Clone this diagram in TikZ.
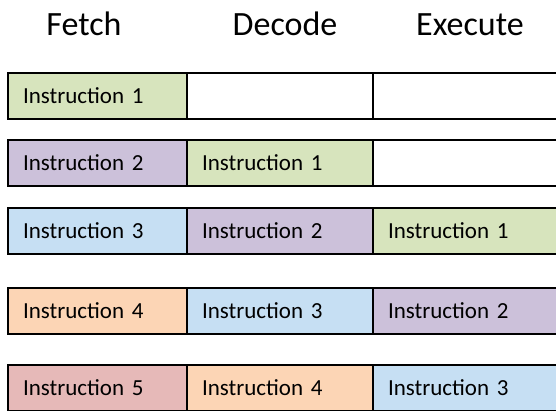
\documentclass[tikz,border=0pt]{standalone}
\usepackage{fontspec}
\setmainfont{Carlito}
\usetikzlibrary{positioning}

\definecolor{insone}{HTML}{D7E4BD}
\definecolor{instwo}{HTML}{CCC1DA}
\definecolor{insthree}{HTML}{C6DFF3}
\definecolor{insfour}{HTML}{FCD5B5}
\definecolor{insfive}{HTML}{E6B9B8}

\begin{document}
\begin{tikzpicture}[x=1pt,y=-1pt,
  cell/.style={draw=black,line width=2.8pt,outer sep=0pt,anchor=north west,
    minimum height=46pt,minimum width=186pt,text width=156pt,inner xsep=15pt,
    align=left,font=\fontsize{23}{28}\selectfont},
  firstcol/.style={minimum width=179pt,text width=149pt},
  lastcol/.style={minimum width=194pt,text width=164pt},
  hdr/.style={anchor=base,font=\fontsize{34}{40}\selectfont}]
 \useasboundingbox (0,0) rectangle (556,410);
 \clip (0,0) rectangle (556,410);
 % stage headings
 \node[hdr] (fetch) at (84,35) {Fetch};
 \node[hdr] (decode) at (285,35) {Decode};
 \node[hdr] (execute) at (470,35) {Execute};
 % cycle 1
 \node[cell,firstcol,fill=insone] (f1) at (8,73) {Instruction 1};
 \node[cell,fill=white] (d1) at (f1.north east) {};
 \node[cell,lastcol,fill=white] (e1) at (d1.north east) {};
 % cycle 2
 \node[cell,firstcol,fill=instwo] (f2) at (8,140) {Instruction 2};
 \node[cell,fill=insone] (d2) at (f2.north east) {Instruction 1};
 \node[cell,lastcol,fill=white] (e2) at (d2.north east) {};
 % cycle 3
 \node[cell,firstcol,fill=insthree] (f3) at (8,208) {Instruction 3};
 \node[cell,fill=instwo] (d3) at (f3.north east) {Instruction 2};
 \node[cell,lastcol,fill=insone] (e3) at (d3.north east) {Instruction 1};
 % cycle 4
 \node[cell,firstcol,fill=insfour] (f4) at (8,288) {Instruction 4};
 \node[cell,fill=insthree] (d4) at (f4.north east) {Instruction 3};
 \node[cell,lastcol,fill=instwo] (e4) at (d4.north east) {Instruction 2};
 % cycle 5
 \node[cell,firstcol,fill=insfive] (f5) at (8,365) {Instruction 5};
 \node[cell,fill=insfour] (d5) at (f5.north east) {Instruction 4};
 \node[cell,lastcol,fill=insthree] (e5) at (d5.north east) {Instruction 3};
\end{tikzpicture}
\end{document}
